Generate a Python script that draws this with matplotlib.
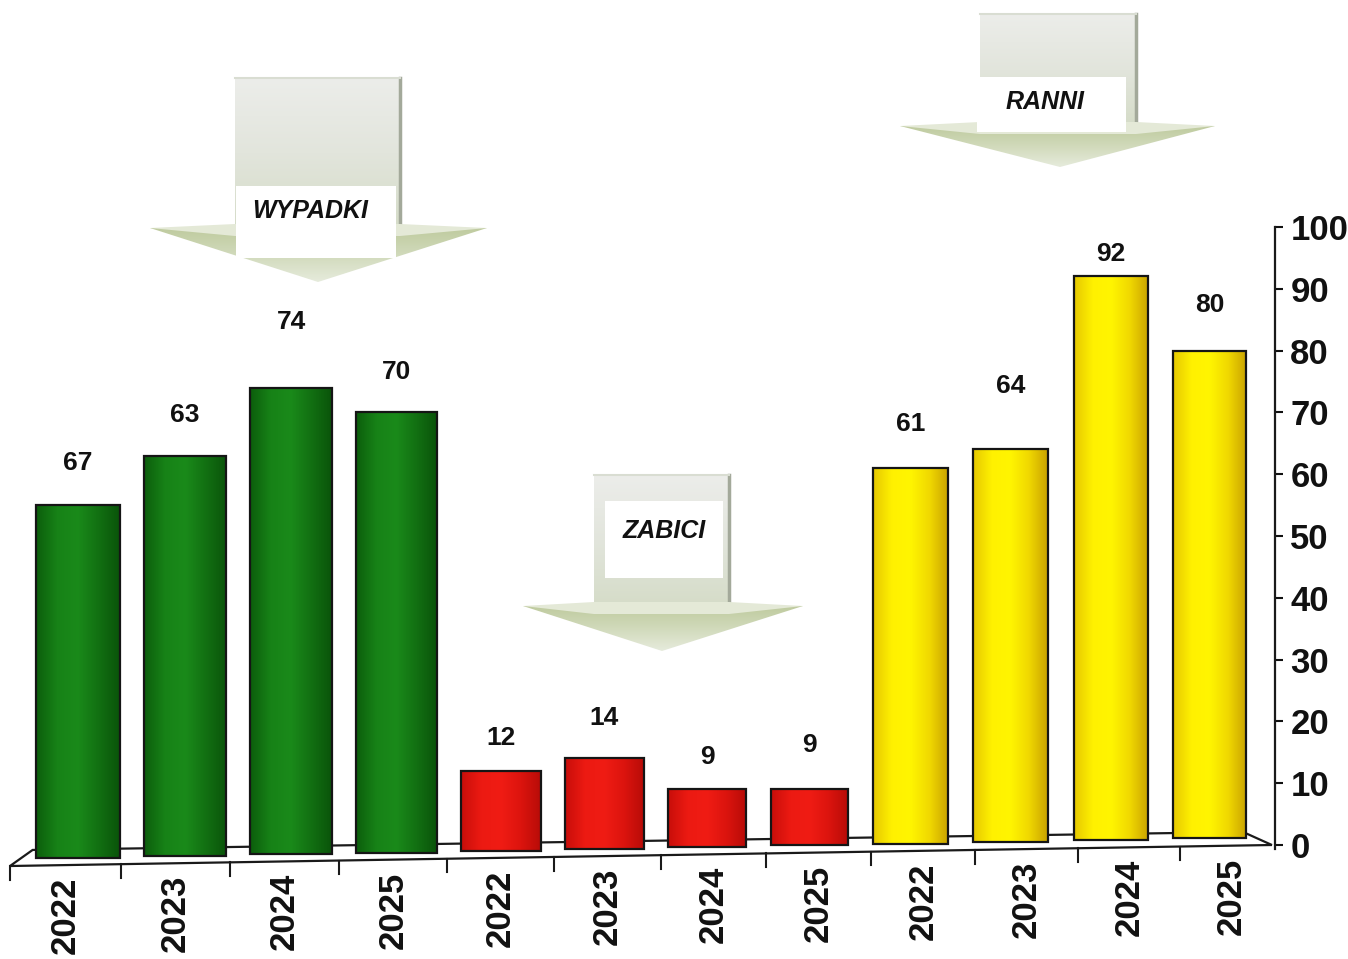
import matplotlib
matplotlib.use("Agg")
import matplotlib.pyplot as plt
import numpy as np
from matplotlib.colors import LinearSegmentedColormap
from matplotlib.patches import Polygon, Rectangle

plt.rcParams['font.family'] = ['Liberation Sans', 'DejaVu Sans']

# Data
groups = ["WYPADKI", "ZABICI", "RANNI"]
years = ["2022", "2023", "2024", "2025"]
bar_values = [55, 63, 74, 70, 12, 14, 9, 9, 61, 64, 92, 80]      # drawn height
bar_labels = ["67", "63", "74", "70", "12", "14", "9", "9", "61", "64", "92", "80"]
y_ticks = [0, 10, 20, 30, 40, 50, 60, 70, 80, 90, 100]

# Styling
group_cmaps = [
    LinearSegmentedColormap.from_list("g", ["#0c5e0c", "#178217", "#1a8a1a", "#127012", "#0a540a"]),
    LinearSegmentedColormap.from_list("r", ["#c80e0a", "#ec1a12", "#f01c14", "#dc140e", "#b80c08"]),
    LinearSegmentedColormap.from_list("y", ["#e6c800", "#fff100", "#fff500", "#f0d800", "#c9a200"]),
]
label_pad = [30, 29, 47, 29, 24, 29, 23, 32, 32, 46, 16, 33]  # points above bar top
warp = 0.0039      # fake perspective, bars drift right in the middle
tilt = 0.29        # floor rises to the right
y_low = -7         # room below zero for the tilted floor


def persp(x):
    return x + warp * (x + 0.5) * (11.5 - x)


def front_y(x):
    return -3.4 + 3.4 * (x + 0.64) / 12.3


fig = plt.figure(figsize=(13.48, 9.59), dpi=100)
px_per_unit = 618 / 100
ax_h = (100 - y_low) * px_per_unit
ax = fig.add_axes([10 / 1348, 1 - (227 + ax_h) / 959, 1265 / 1348, ax_h / 959])

n = len(bar_values)
idx = np.arange(n)
xs = persp(idx)
bottoms = -2.1 + tilt * idx
heights = np.array(bar_values) - bottoms
widths = 0.81 - 0.009 * idx

# floor
floor = Polygon([(-0.64, -3.4), (11.63, 0.0), (11.35, 2.1), (-0.42, -0.8)],
                closed=True, facecolor="white", edgecolor="#1a1a1a", lw=1.6, zorder=1, clip_on=False)
ax.add_patch(floor)

bars = ax.bar(xs, heights, width=widths, bottom=bottoms, facecolor="none",
              edgecolor="#151515", linewidth=1.6, zorder=3)
grad = np.linspace(0, 1, 128)[None, :]
for i, b in enumerate(bars):
    x0, y0 = b.get_x(), b.get_y()
    im = ax.imshow(grad, extent=(x0, x0 + b.get_width(), y0, y0 + b.get_height()),
                   cmap=group_cmaps[i // 4], aspect="auto", zorder=2, interpolation="bilinear")
    im.set_clip_path(b)

for i in range(n):
    ax.annotate(bar_labels[i], (xs[i], bar_values[i]), xytext=(0, label_pad[i]),
                textcoords="offset points", ha="center", va="center",
                fontsize=19, fontweight="bold", color="#111111", zorder=5)

# x ticks on the front floor edge + year labels
tick_x = [-0.125 + 1.0305 * persp(k - 0.5) for k in range(n + 1)]
for k in range(n):
    t = tick_x[k]
    ax.plot([t, t], [front_y(t), front_y(t) - 2.2], color="#1a1a1a", lw=1.5, clip_on=False)
    mid = (tick_x[k] + tick_x[k + 1]) / 2
    ax.text(mid, front_y(mid) - 1.9, years[k % 4], rotation=90, ha="center", va="top",
            fontsize=25, fontweight="bold", color="#111111", clip_on=False)

ax.set_xlim(-0.64, 11.66)
ax.set_ylim(y_low, 100)
for s in ["left", "top", "bottom"]:
    ax.spines[s].set_visible(False)
ax.spines["right"].set_bounds(-0.6, 100)
ax.spines["right"].set_linewidth(1.6)
ax.spines["right"].set_color("#1a1a1a")
ax.patch.set_alpha(0)
ax.set_xticks([])
ax.yaxis.tick_right()
ax.set_yticks(y_ticks)
ax.tick_params(axis="y", direction="out", length=6, width=1.5, pad=5, labelsize=25, colors="#111111")
for lab in ax.get_yticklabels():
    lab.set_fontweight("bold")

# callout arrows, drawn in pixel space
ov = fig.add_axes([0, 0, 1, 1], zorder=10)
ov.set_xlim(0, 1348)
ov.set_ylim(959, 0)
ov.axis("off")
ov.patch.set_alpha(0)

shaft_cmap = LinearSegmentedColormap.from_list("s", ["#ecedea", "#e2e5dc", "#d5dcc8"])
head_cmap = LinearSegmentedColormap.from_list("h", ["#bfcb9f", "#d1dabb", "#e6ebdc"])
vgrad = np.linspace(0, 1, 128)[:, None]


def block_arrow(name, shaft, top, head, head_y, tip, box, text_xy):
    sl, sr = shaft
    hl, hr = head
    rect = Rectangle((sl, top), sr - sl, head_y - top, facecolor="none", edgecolor="none")
    ov.add_patch(rect)
    im = ov.imshow(vgrad, extent=(sl, sr, head_y, top), cmap=shaft_cmap, aspect="auto", zorder=1)
    im.set_clip_path(rect)
    ov.plot([sr, sr], [top, head_y], color="#a3a99a", lw=2.5, zorder=2)
    ov.plot([sl, sr], [top, top], color="#d9ddd2", lw=1.5, zorder=2)
    tri = Polygon([(hl, head_y), (hr, head_y), tip], closed=True, facecolor="none", edgecolor="none")
    ov.add_patch(tri)
    im2 = ov.imshow(vgrad, extent=(hl, hr, tip[1], head_y), cmap=head_cmap, aspect="auto", zorder=3)
    im2.set_clip_path(tri)
    band = Polygon([(hl, head_y), (sl, head_y - 4), (sr, head_y - 4), (hr, head_y),
                    (sr, head_y + 8), (sl, head_y + 8)], closed=True,
                   facecolor="#e4e9d7", edgecolor="none", zorder=4)
    ov.add_patch(band)
    (bx0, by0), (bx1, by1) = box
    ov.add_patch(Rectangle((bx0, by0), bx1 - bx0, by1 - by0, facecolor="white", edgecolor="none", zorder=5))
    ov.text(text_xy[0], text_xy[1], name, ha="center", va="center", fontsize=18,
            fontweight="bold", fontstyle="italic", color="#111111", zorder=6)


block_arrow(groups[0], (235, 400), 78, (150, 487), 228, (318, 282), ((236, 186), (396, 258)), (310, 211))
block_arrow(groups[1], (594, 729), 475, (523, 803), 606, (662, 651), ((605, 501), (723, 578)), (664, 531))
block_arrow(groups[2], (980, 1136), 14, (900, 1215), 126, (1060, 167), ((977, 77), (1126, 132)), (1045, 102))

fig.savefig("out.png", dpi=100)
